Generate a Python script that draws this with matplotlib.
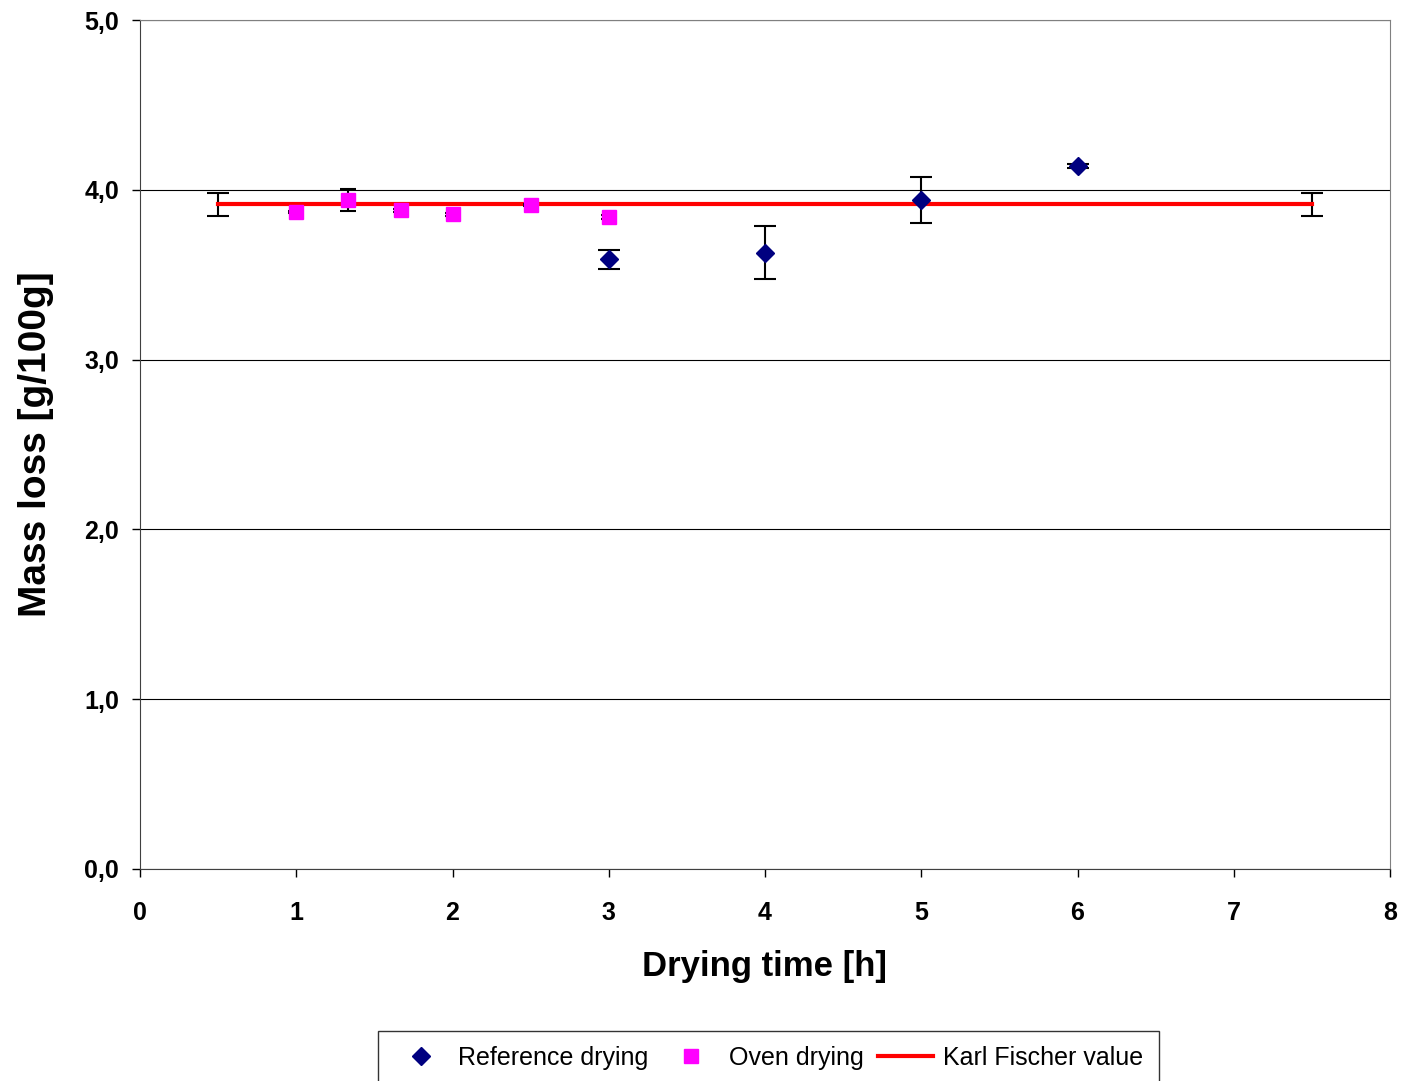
import matplotlib
matplotlib.use("Agg")
import matplotlib.pyplot as plt
from matplotlib.ticker import FuncFormatter, MultipleLocator
from matplotlib.lines import Line2D

# Data
ref_x = [3, 4, 5, 6]
ref_y = [3.59, 3.63, 3.94, 4.14]
ref_err = [0.056, 0.155, 0.135, 0.01]

oven_x = [1.0, 1.33, 1.67, 2.0, 2.5, 3.0]
oven_y = [3.87, 3.94, 3.88, 3.855, 3.91, 3.84]
oven_err = [0.008, 0.062, 0.008, 0.008, 0.008, 0.012]

kf_x = [0.5, 7.5]
kf_y = [3.915, 3.915]
kf_err = [0.068, 0.068]

legend_labels = ['Reference drying', 'Oven drying', 'Karl Fischer value']

plt.rcParams['font.family'] = ['Liberation Sans', 'DejaVu Sans']

fig = plt.figure(figsize=(14.03, 10.81), dpi=100)
ax = fig.add_axes([140/1403, 1 - 869/1081, 1250/1403, 849/1081])

ax.set_xlim(0, 8)
ax.set_ylim(0, 5)
ax.yaxis.set_major_locator(MultipleLocator(1))
ax.xaxis.set_major_locator(MultipleLocator(1))
ax.yaxis.set_major_formatter(FuncFormatter(lambda v, p: f"{v:.1f}".replace('.', ',')))
ax.grid(axis='y', color='black', linewidth=0.8)
ax.set_axisbelow(True)

for s in ['top', 'right']:
    ax.spines[s].set_color('#808080')
for s in ['left', 'bottom']:
    ax.spines[s].set_color('#404040')

ax.errorbar(kf_x, kf_y, yerr=kf_err, color='red', linewidth=3, ecolor='black',
            elinewidth=1.5, capsize=8, capthick=1.5, zorder=3)
ax.errorbar(oven_x, oven_y, yerr=oven_err, fmt='s', color='#ff00ff', markersize=10,
            ecolor='black', elinewidth=1.5, capsize=6, capthick=1.5, zorder=4)
ax.errorbar(ref_x, ref_y, yerr=ref_err, fmt='D', color='#000080', markersize=9,
            ecolor='black', elinewidth=1.5, capsize=8, capthick=1.5, zorder=4)

ax.tick_params(axis='both', labelsize=18, direction='out', length=6, width=1)
for lab in ax.get_xticklabels() + ax.get_yticklabels():
    lab.set_fontweight('bold')
ax.tick_params(axis='x', pad=17)
ax.tick_params(axis='y', pad=9)

ax.set_xlabel('Drying time [h]', fontsize=25, fontweight='bold', labelpad=18)
ax.set_ylabel('Mass loss [g/100g]', fontsize=28, fontweight='bold', labelpad=22)

handles = [Line2D([], [], marker='D', color='#000080', linestyle='none', markersize=9),
           Line2D([], [], marker='s', color='#ff00ff', linestyle='none', markersize=10),
           Line2D([], [], color='red', linewidth=3)]
leg = fig.legend(handles, legend_labels,
                 loc='upper center', bbox_to_anchor=(768.5/1403, 1 - 1031/1081),
                 borderaxespad=0,
                 ncol=3, fontsize=18, frameon=True, fancybox=False, edgecolor='black',
                 handlelength=2.2, columnspacing=0.6, handletextpad=0.4,
                 borderpad=0.6)
leg.get_frame().set_linewidth(1)

fig.savefig('out.png', dpi=100)
